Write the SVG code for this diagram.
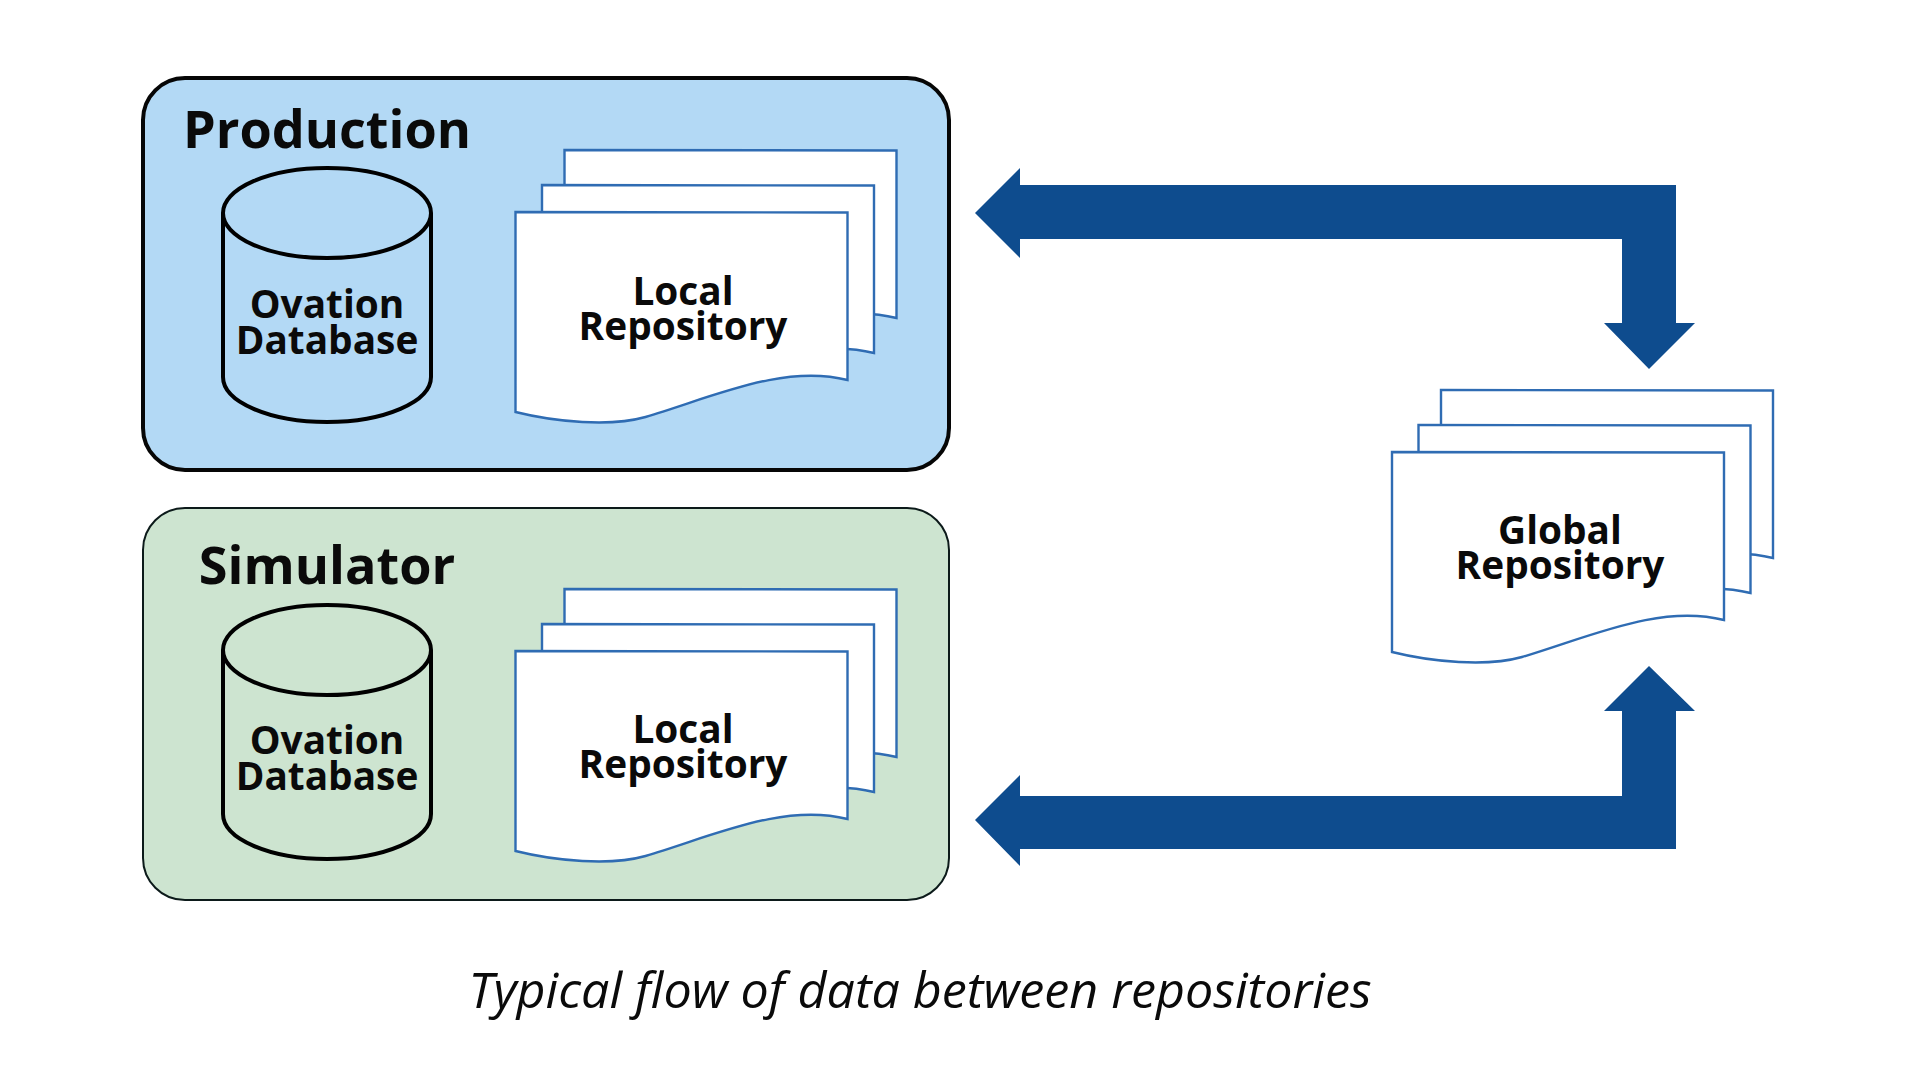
<svg xmlns="http://www.w3.org/2000/svg" width="1920" height="1080" viewBox="0 0 1920 1080">
<style>
text{font-family:"Open Sans","Noto Sans",sans-serif;fill:#0a0a0a;text-anchor:middle}
.title{font-weight:700;font-size:52.200px}
.lab{font-weight:700;font-size:38.800px}
.cap{font-style:italic;font-size:50.200px}
.page{fill:#fff;stroke:#2f6cb3;stroke-width:2.400}
.cyl{stroke:#000;stroke-width:4;fill:none}
.arrow{fill:#0e4c8e}
</style>
<defs>
<path id="page" class="page" d="M0 0L332 .5V168C268 152 200 184 130 205C95 215 40 210 0 200Z"/>
<g id="stack">
<use href="#page" x="49" y="-62"/>
<use href="#page" x="26.500" y="-27"/>
<use href="#page"/>
</g>
<g id="cyltop">
<path class="cyl" d="M223 213V377C223 402 270 422 327 422C384 422 431 402 431 377V213"/>
<ellipse class="cyl" cx="327" cy="213" rx="104" ry="45"/>
</g>
</defs>
<rect width="1920" height="1080" fill="#fff"/>
<g id="production">
<rect x="143" y="78" width="806" height="392" rx="42" fill="#b3d9f5" stroke="#060606" stroke-width="4"/>
<text class="title" x="327" y="148">Production</text>
</g>
<g id="production-db">
<use href="#cyltop"/>
<text class="lab" x="327"><tspan x="327" y="318">Ovation</tspan><tspan x="327" y="354">Database</tspan></text>
</g>
<g id="production-repo">
<use href="#stack" x="515.500" y="212"/>
<text class="lab" x="683"><tspan x="683" y="305">Local</tspan><tspan x="683" y="340">Repository</tspan></text>
</g>
<g id="simulator">
<rect x="143" y="508" width="806" height="392" rx="42" fill="#cde4d0" stroke="#0c1a1a" stroke-width="2"/>
<text class="title" x="327" y="584">Simulator</text>
</g>
<g id="simulator-db">
<use href="#cyltop" y="437"/>
<text class="lab" x="327"><tspan x="327" y="754">Ovation</tspan><tspan x="327" y="790">Database</tspan></text>
</g>
<g id="simulator-repo">
<use href="#stack" x="515.500" y="651"/>
<text class="lab" x="683"><tspan x="683" y="743">Local</tspan><tspan x="683" y="778">Repository</tspan></text>
</g>
<g id="global-repo">
<use href="#stack" x="1392" y="452"/>
<text class="lab" x="1560"><tspan x="1560" y="544">Global</tspan><tspan x="1560" y="579">Repository</tspan></text>
</g>
<g id="connectors">
<path class="arrow" d="M975 213L1020 168V185H1676V323H1695L1649 369L1604 323H1622V239H1020V258Z"/>
<path class="arrow" d="M975 820L1020 775V796H1622V711H1604L1649 666L1695 711H1676V849H1020V866Z"/>
</g>
<text id="caption" class="cap" x="920" y="1008">Typical flow of data between repositories</text>
</svg>
